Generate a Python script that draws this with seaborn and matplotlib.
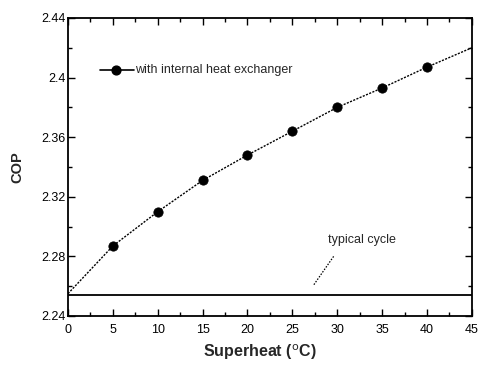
import matplotlib
matplotlib.use("Agg")
import matplotlib.pyplot as plt
import seaborn as sns
import pandas as pd
from matplotlib.ticker import MultipleLocator, FuncFormatter

# Measured COP with internal heat exchanger
superheat = [5, 10, 15, 20, 25, 30, 35, 40]
cop_ihx = [2.287, 2.310, 2.331, 2.348, 2.364, 2.380, 2.393, 2.407]

# Smoothed trend line through the measurements
trend_x = [0, 5, 10, 15, 20, 25, 30, 35, 40, 45]
trend_y = [2.255, 2.287, 2.310, 2.331, 2.348, 2.364, 2.380, 2.393, 2.407, 2.420]

# Typical cycle reference level
typical_x = [0, 45]
typical_y = [2.254, 2.254]

sns.set_style("ticks")
plt.rcParams["font.family"] = ["Liberation Sans", "DejaVu Sans"]

fig = plt.figure(figsize=(4.79, 3.67), dpi=100)
ax = fig.add_axes([0.142, 0.139, 0.843, 0.812])

pts = pd.DataFrame({"x": superheat, "y": cop_ihx})
trend = pd.DataFrame({"x": trend_x, "y": trend_y})
typ = pd.DataFrame({"x": typical_x, "y": typical_y})

sns.lineplot(data=trend, x="x", y="y", ax=ax, color="black", lw=1.0,
             linestyle=(0, (1.5, 1.0)), legend=False)
sns.scatterplot(data=pts, x="x", y="y", ax=ax, color="black", s=45,
                edgecolor="black", legend=False)
sns.lineplot(data=typ, x="x", y="y", ax=ax, color="black", lw=1.3, legend=False)

# Legend entry
ax.plot([3.6, 7.4], [2.405, 2.405], color="black", lw=1.2)
ax.scatter([5.3], [2.405], color="black", s=40, zorder=3)
ax.text(7.5, 2.405, "with internal heat exchanger", fontsize=9, va="center")

# Annotation for typical cycle
ax.text(29.0, 2.291, "typical cycle", fontsize=9, va="center")
ax.plot([29.6, 27.4], [2.280, 2.261], color="black", lw=0.9,
        linestyle=(0, (1.2, 1.2)))

ax.set_xlim(0, 45)
ax.set_ylim(2.24, 2.44)
ax.xaxis.set_major_locator(MultipleLocator(5))
ax.xaxis.set_minor_locator(MultipleLocator(2.5))
ax.yaxis.set_major_locator(MultipleLocator(0.04))
ax.yaxis.set_minor_locator(MultipleLocator(0.02))
ax.yaxis.set_major_formatter(FuncFormatter(lambda v, p: f"{v:g}"))
ax.tick_params(which="both", direction="in", top=True, right=True,
               labelsize=9, width=1.0, colors="black")
ax.tick_params(axis="x", pad=6)
ax.tick_params(axis="y", pad=2)
ax.tick_params(which="major", length=5)
ax.tick_params(which="minor", length=3)
for s in ax.spines.values():
    s.set_visible(True)
    s.set_linewidth(1.3)
    s.set_color("black")

ax.set_xlabel("Superheat ($^{\\rm o}$C)", fontsize=11.5, fontweight="bold")
ax.xaxis.set_label_coords(0.475, -0.09)
ax.set_ylabel("COP", fontsize=10.5, fontweight="bold", labelpad=12)

fig.savefig("out.png", dpi=100)
